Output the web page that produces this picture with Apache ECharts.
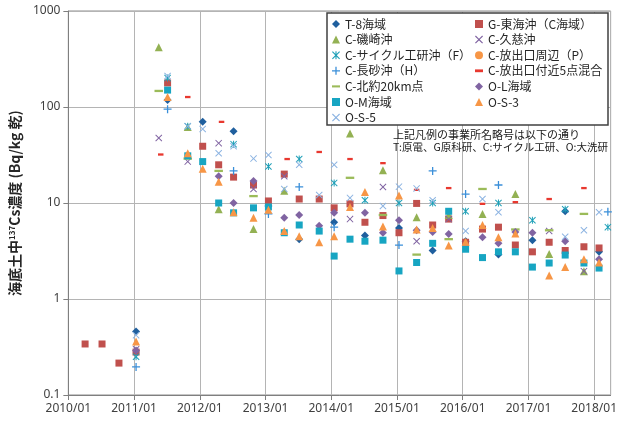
<!DOCTYPE html>
<html>
<head>
<meta charset="utf-8">
<title>海底土中137Cs濃度</title>
<script src="https://cdn.jsdelivr.net/npm/echarts@6/dist/echarts.min.js"></script>
<style>
  html, body { margin: 0; padding: 0; background: #fff; }
  #main { width: 620px; height: 423px; }
</style>
</head>
<body>
<div id="main"></div>
<script>
// 各系列のデータ [採取日, Bq/kg乾]
var t8 = [['2011-01-12',0.46],['2011-07-06',118],['2012-01-17',70],['2012-07-07',56],['2013-01-17',9.3],['2013-07-07',4.2],['2014-01-17',6.3],['2014-07-07',4.6],['2015-01-12',5.5],['2015-07-18',3.2],['2016-01-17',4.0],['2016-07-18',2.9],['2017-01-23',4.1],['2017-07-24',8.2],['2018-01-28',3.1]];
var gTokai = [['2010-04-04',0.34],['2010-07-07',0.34],['2010-10-09',0.215],['2011-01-12',0.28],['2011-07-06',178],['2012-01-17',39],['2012-04-15',25],['2012-07-07',18.6],['2012-10-26',15.4],['2013-01-17',10.5],['2013-04-15',20],['2013-07-07',11],['2013-10-26',11],['2014-01-17',8.9],['2014-04-15',9.8],['2014-07-07',6.3],['2014-10-15',7.4],['2015-01-12',4.9],['2015-04-20',9.9],['2015-07-18',5.9],['2015-10-15',6.8],['2016-01-17',3.9],['2016-04-20',5.35],['2016-07-18',5.6],['2016-10-20',3.65],['2017-01-23',3.1],['2017-04-26',3.9],['2017-07-24',3.2],['2017-11-05',3.5],['2018-01-28',3.4]];
var cIso = [['2011-05-18',420],['2011-10-26',62],['2012-04-15',8.6],['2012-10-26',5.35],['2013-04-15',13.4],['2014-04-15',53],['2014-10-15',22],['2015-04-20',7.1],['2015-10-15',7.5],['2016-04-20',7.7],['2016-10-20',12.4],['2017-04-26',2.95],['2017-11-05',1.95]];
var cKuji = [['2011-01-12',0.3],['2011-05-18',47.5],['2011-10-26',27],['2012-04-15',42],['2012-10-26',14],['2013-04-15',19],['2014-04-15',6.8],['2014-10-15',14.7],['2015-04-20',4.0],['2015-10-15',6.8],['2017-04-26',5.1],['2017-11-05',1.95]];
var cCycle = [['2011-01-12',0.25],['2011-07-06',200],['2011-10-26',63],['2012-07-07',41],['2013-01-17',24],['2013-07-07',28.7],['2014-01-17',16.2],['2014-07-07',10.7],['2015-01-12',10],['2015-07-18',10],['2016-01-17',8.2],['2016-07-18',10],['2017-01-23',6.6],['2017-07-24',8.6],['2018-03-18',5.6]];
var cOutP = [];
var cNagasuna = [['2011-01-12',0.196],['2011-07-06',95],['2012-07-07',21.6],['2013-01-17',7.7],['2013-07-07',14.7],['2014-01-17',5.6],['2015-01-12',3.65],['2015-07-18',21.6],['2016-01-17',12.4],['2016-07-18',15.4],['2018-03-18',8.1]];
var cOut5 = [['2011-05-29',32],['2011-10-26',127],['2012-05-01',70],['2013-05-01',28.7],['2013-10-26',34],['2014-04-15',28.7],['2014-10-15',26],['2015-04-20',13.7],['2015-10-15',14.3],['2016-04-20',9.8],['2016-10-20',10.2],['2017-04-26',11],['2017-11-05',14.3]];
var cNorth20 = [['2011-05-18',147],['2011-10-26',29],['2012-04-15',21.6],['2012-10-26',11.8],['2014-04-15',18.3],['2014-10-15',7.5],['2015-04-20',2.9],['2015-10-15',4.2],['2016-04-20',14],['2016-10-20',5.3],['2017-04-26',5.2],['2017-11-05',7.7]];
var oL = [['2011-01-12',0.29],['2012-04-15',19],['2012-07-07',10],['2012-10-26',17],['2013-04-15',7],['2013-07-07',7.5],['2013-10-26',5.8],['2014-01-17',7.9],['2014-07-07',7.9],['2014-10-15',4.9],['2015-01-12',6.6],['2015-04-20',5.2],['2015-07-18',5.0],['2015-10-15',4.75],['2016-04-20',4.4],['2016-07-18',3.8],['2016-10-20',5.0],['2017-01-23',4.9],['2017-07-24',4.0],['2018-01-28',2.6]];
var oM = [['2011-07-06',150],['2011-10-26',31],['2012-01-17',27],['2012-04-15',10],['2012-07-07',7.9],['2012-10-26',8.9],['2013-01-17',9.1],['2013-04-15',4.9],['2013-07-07',5.9],['2013-10-26',5.1],['2014-01-17',2.8],['2014-04-15',4.2],['2014-07-07',4.0],['2014-10-15',4.1],['2015-01-12',1.96],['2015-04-20',2.4],['2015-07-18',3.8],['2015-10-15',8.2],['2016-01-17',3.3],['2016-04-20',2.7],['2016-07-18',3.1],['2016-10-20',3.1],['2017-01-23',2.15],['2017-04-26',2.37],['2017-07-24',2.87],['2017-11-05',2.37],['2018-01-28',2.1]];
var oS3 = [['2011-01-12',0.36],['2011-07-06',127],['2011-10-26',33],['2012-01-17',22.7],['2012-04-15',16.6],['2012-07-07',8],['2012-10-26',7],['2013-01-17',8.5],['2013-04-15',5.1],['2013-07-07',4.5],['2013-10-26',3.9],['2014-01-17',4.5],['2014-04-15',9.1],['2014-07-07',13],['2014-10-15',5.7],['2015-01-12',12],['2015-04-20',5.3],['2015-07-18',5.5],['2015-10-15',3.6],['2016-01-17',3.95],['2016-04-20',5.9],['2016-07-18',4.4],['2016-10-20',4.8],['2017-04-26',1.76],['2017-07-24',2.15],['2017-11-05',2.6],['2018-01-28',2.4]];
var oS5 = [['2011-01-12',0.42],['2011-07-06',210],['2011-10-26',63],['2012-01-17',59],['2012-04-15',33],['2012-07-07',39],['2012-10-26',29],['2013-01-17',31.6],['2013-04-15',14],['2013-07-07',25],['2013-10-26',12.1],['2014-01-17',25],['2014-04-15',11.3],['2014-10-15',9.3],['2015-01-12',14.8],['2015-04-20',14.2],['2015-07-18',10.7],['2016-01-17',5.1],['2016-04-20',11],['2016-07-18',8],['2017-07-24',4.45],['2017-11-05',5.2],['2018-01-28',8.0]];

var yTicks = [0.1, 1, 10, 100, 1000];

// 日付 → 年(小数)
function toYear(s) {
    var p = s.split('-');
    var y = +p[0];
    var t0 = Date.UTC(y, 0, 1), t1 = Date.UTC(y + 1, 0, 1);
    return y + (Date.UTC(y, +p[1] - 1, +p[2]) - t0) / (t1 - t0);
}
function pts(arr) {
    return arr.map(function (d) { return [toYear(d[0]), d[1]]; });
}

// マーカー形状
var X_PATH = 'path://M1,0 L5,4 L9,0 L10,1 L6,5 L10,9 L9,10 L5,6 L1,10 L0,9 L4,5 L0,1 Z';
var STAR_PATH = 'path://M1,0 L5,4 L9,0 L10,1 L6,5 L10,9 L9,10 L5,6 L1,10 L0,9 L4,5 L0,1 Z M4.3,0 H5.7 V10 H4.3 Z';
var PLUS_PATH = 'path://M4.2,0 H5.8 V4.2 H10 V5.8 H5.8 V10 H4.2 V5.8 H0 V4.2 H4.2 Z';
var DASH_PATH = 'path://M0,0 H10 V3.5 H0 Z';
var LDASH_PATH = 'path://M0,0 H10 V2.6 H0 Z';

var seriesDefs = [
    {name: 'T-8海域', data: t8, symbol: 'diamond', size: 8, color: '#1f5f9e'},
    {name: 'G-東海沖（C海域）', data: gTokai, symbol: 'rect', size: 7, color: '#c0504d'},
    {name: 'C-磯崎沖', data: cIso, symbol: 'triangle', size: 8, color: '#93b153'},
    {name: 'C-久慈沖', data: cKuji, symbol: X_PATH, size: 7, color: '#8064a2'},
    {name: 'C-サイクル工研沖（F）', data: cCycle, symbol: STAR_PATH, size: 7, color: '#1fa0b8'},
    {name: 'C-放出口周辺（P）', data: cOutP, symbol: 'circle', size: 7, color: '#f79646'},
    {name: 'C-長砂沖（H）', data: cNagasuna, symbol: PLUS_PATH, size: 8, color: '#3a8fd9'},
    {name: 'C-放出口付近5点混合', data: cOut5, symbol: 'rect', size: [5.5, 2.3], color: '#e8382f', icon: DASH_PATH},
    {name: 'C-北約20km点', data: cNorth20, symbol: 'rect', size: [8.5, 2.3], color: '#9bbb59', icon: LDASH_PATH},
    {name: 'O-L海域', data: oL, symbol: 'diamond', size: 8, color: '#8064a2'},
    {name: 'O-M海域', data: oM, symbol: 'rect', size: 7, color: '#17a5c2'},
    {name: 'O-S-3', data: oS3, symbol: 'triangle', size: 8, color: '#f79646'},
    {name: 'O-S-5', data: oS5, symbol: X_PATH, size: 7, color: '#8db4e2'}
];

var leftCol = ['T-8海域', 'C-磯崎沖', 'C-サイクル工研沖（F）', 'C-長砂沖（H）', 'C-北約20km点', 'O-M海域', 'O-S-5'];
var rightCol = ['G-東海沖（C海域）', 'C-久慈沖', 'C-放出口周辺（P）', 'C-放出口付近5点混合', 'O-L海域', 'O-S-3'];

function legendItems(names) {
    return names.map(function (n) {
        var s = seriesDefs.filter(function (d) { return d.name === n; })[0];
        var icon = s.icon || s.symbol;
        if (icon === 'rect') icon = 'path://M0,0 H10 V10 H0 Z';
        return {name: n, icon: icon};
    });
}

var chart = echarts.init(document.getElementById('main'));

var legendBase = {
    orient: 'vertical',
    top: 17,
    padding: 0,
    itemWidth: 8,
    itemHeight: 8,
    itemGap: 1.6,
    selectedMode: false,
    z: 20,
    textStyle: {fontFamily: '"Noto Sans CJK JP", sans-serif', fontSize: 12, color: '#262626', lineHeight: 14}
};

var option = {
    backgroundColor: '#fff',
    animation: false,
    grid: {left: 68, right: 8, top: 11, bottom: 28, show: true, borderColor: '#8c8c8c', borderWidth: 1},
    legend: [
        Object.assign({}, legendBase, {left: 332, data: legendItems(leftCol)}),
        Object.assign({}, legendBase, {left: 475, data: legendItems(rightCol)})
    ],
    xAxis: {
        type: 'value',
        min: 2010,
        max: 2018.25,
        interval: 1,
        axisLine: {show: true, lineStyle: {color: '#7f7f7f'}},
        axisTick: {show: true, length: 5, lineStyle: {color: '#7f7f7f'}},
        splitLine: {show: true, lineStyle: {color: '#b4b4b4'}},
        axisLabel: {
            fontFamily: '"Noto Sans", sans-serif', fontSize: 12, color: '#404040', margin: 8,
            showMaxLabel: false,
            formatter: function (v) { return Math.round(v) + '/01'; }
        }
    },
    yAxis: {
        type: 'log',
        logBase: 10,
        min: yTicks[0],
        max: yTicks[yTicks.length - 1],
        name: '{a|海底土中}{sup|137}{a|Cs濃度 (Bq/kg 乾)}',
        nameLocation: 'middle',
        nameGap: 44,
        nameRotate: 90,
        nameTextStyle: {
            rich: {
                a: {fontFamily: '"Noto Sans CJK JP", sans-serif', fontSize: 14, fontWeight: 'bold', color: '#262626'},
                sup: {fontFamily: '"Noto Sans CJK JP", sans-serif', fontSize: 8, fontWeight: 'bold', color: '#262626', verticalAlign: 'top', padding: [0, 0, 6, 0]}
            }
        },
        axisLine: {show: true, lineStyle: {color: '#7f7f7f'}},
        axisTick: {show: true, length: 5, lineStyle: {color: '#7f7f7f'}},
        splitLine: {show: true, lineStyle: {color: '#b4b4b4'}},
        axisLabel: {
            fontFamily: '"Noto Sans", sans-serif', fontSize: 12, color: '#404040', margin: 8,
            formatter: function (v) { return String(v); }
        }
    },
    graphic: [
        {type: 'rect', z: 10, shape: {x: 327, y: 13, width: 281, height: 112},
         style: {fill: '#fff', stroke: '#404040', lineWidth: 1.5}},
        {type: 'text', z: 10, left: 393, top: 129,
         style: {text: '上記凡例の事業所名略号は以下の通り', font: '11px "Noto Sans CJK JP", sans-serif', fill: '#1a1a1a'}},
        {type: 'text', z: 10, left: 393, top: 142,
         style: {text: 'T:原電、G原科研、C:サイクル工研、O:大洗研', font: '10.5px "Noto Sans CJK JP", sans-serif', fill: '#1a1a1a'}}
    ],
    series: seriesDefs.map(function (s) {
        return {
            name: s.name,
            type: 'scatter',
            data: pts(s.data),
            symbol: s.symbol,
            symbolSize: s.size,
            itemStyle: {color: s.color, opacity: 1},
            emphasis: {disabled: true}
        };
    })
};

chart.setOption(option);
</script>
</body>
</html>
